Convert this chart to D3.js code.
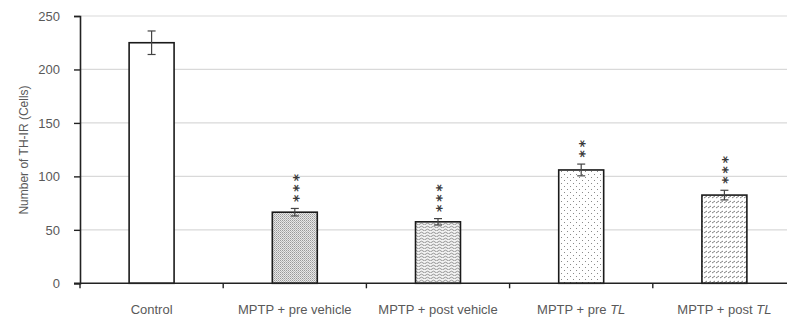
<!DOCTYPE html>
<html><head><meta charset="utf-8">
<script src="https://cdn.jsdelivr.net/npm/d3@7"></script>
<style>body{margin:0;background:#fff}svg{display:block}</style>
</head><body>
<svg id="c" width="787" height="320"></svg>
<script>
const categories = ["Control", "MPTP + pre vehicle", "MPTP + post vehicle", "MPTP + pre TL", "MPTP + post TL"];
const labelMain = ["Control", "MPTP + pre vehicle", "MPTP + post vehicle", "MPTP + pre ", "MPTP + post "];
const labelItalic = ["", "", "", "TL", "TL"];
const means = [225, 66.5, 57.5, 106, 82.5];
const errors = [11, 3.5, 3, 5.5, 4.5];
const stars = ["", "***", "***", "**", "***"];
const yTicks = [0, 50, 100, 150, 200, 250];
const fills = ["white", "url(#pDense)", "url(#pWave)", "url(#pDots)", "url(#pDiag)"];

const svg = d3.select("#c");
const x = d3.scaleBand().domain(categories).range([80, 796]).padding(0);
const y = d3.scaleLinear().domain([0, 250]).range([283.3, 16]);
const barFrac = 0.314;
const txt = "#595959";
const font = "'Liberation Sans', Arial, sans-serif";

// patterns
const defs = svg.append("defs");
let p = defs.append("pattern").attr("id","pDense").attr("patternUnits","userSpaceOnUse").attr("width",2).attr("height",2);
p.append("rect").attr("width",2).attr("height",2).attr("fill","#e8e8e8");
p.append("rect").attr("width",1).attr("height",1).attr("fill","#9a9a9a");
p.append("rect").attr("x",1).attr("y",1).attr("width",1).attr("height",1).attr("fill","#b8b8b8");

p = defs.append("pattern").attr("id","pWave").attr("patternUnits","userSpaceOnUse").attr("width",6).attr("height",3);
p.append("rect").attr("width",6).attr("height",3).attr("fill","#f2f2f2");
p.append("path").attr("d","M0,2 Q1.5,0.3 3,2 T6,2").attr("fill","none").attr("stroke","#7a7a7a").attr("stroke-width",0.8);

p = defs.append("pattern").attr("id","pDots").attr("patternUnits","userSpaceOnUse").attr("width",6).attr("height",6);
p.append("rect").attr("width",6).attr("height",6).attr("fill","white");
p.append("rect").attr("x",0).attr("y",0).attr("width",1).attr("height",1).attr("fill","#8a8a8a");
p.append("rect").attr("x",3).attr("y",3).attr("width",1).attr("height",1).attr("fill","#8a8a8a");

p = defs.append("pattern").attr("id","pDiag").attr("patternUnits","userSpaceOnUse").attr("width",4).attr("height",5);
p.append("rect").attr("width",4).attr("height",5).attr("fill","white");
p.append("path").attr("d","M0,3 L3,1").attr("stroke","#6e6e6e").attr("stroke-width",0.9);

// gridlines
svg.append("g").selectAll("line").data(yTicks.filter(d=>d>0)).join("line")
  .attr("x1",80).attr("x2",787).attr("y1",d=>y(d)).attr("y2",d=>y(d))
  .attr("stroke","#d9d9d9").attr("stroke-width",1.2);

// y axis
const yAxis = svg.append("g").attr("transform","translate(80,0)")
  .call(d3.axisLeft(y).tickValues(yTicks).tickSize(6).tickPadding(14));
yAxis.select(".domain").attr("stroke","#222").attr("stroke-width",1.6);
yAxis.selectAll(".tick line").attr("stroke","#222").attr("stroke-width",1.4);
yAxis.selectAll("text").attr("fill",txt).style("font-family",font).style("font-size","13px");

// y title
svg.append("text").attr("transform","translate(28,150) rotate(-90)").attr("text-anchor","middle")
  .attr("fill",txt).style("font-family",font).style("font-size","12px")
  .text("Number of TH-IR (Cells)");

// bars
const g = svg.append("g");
categories.forEach((c,i)=>{
  const bw = x.bandwidth()*barFrac;
  const cx = x(c) + x.bandwidth()/2;
  g.append("rect").attr("x",cx-bw/2).attr("y",y(means[i])).attr("width",bw).attr("height",y(0)-y(means[i]))
    .attr("fill",fills[i]).attr("stroke","#1a1a1a").attr("stroke-width",1.6);
  const top = y(means[i]+errors[i]), bot = y(means[i]-errors[i]);
  g.append("line").attr("x1",cx).attr("x2",cx).attr("y1",top).attr("y2",bot).attr("stroke","#444").attr("stroke-width",1.2);
  g.append("line").attr("x1",cx-4).attr("x2",cx+4).attr("y1",top).attr("y2",top).attr("stroke","#444").attr("stroke-width",1.2);
  g.append("line").attr("x1",cx-4).attr("x2",cx+4).attr("y1",bot).attr("y2",bot).attr("stroke","#444").attr("stroke-width",1.2);
  if(stars[i]){
    // stacked significance stars, one text element rotated so they stack vertically
    g.append("text").attr("transform",`translate(${cx+7.7},${top-10+3.5}) rotate(-90)`)
      .attr("fill","#3a3a3a").style("letter-spacing","3px")
      .style("font-family","'DejaVu Sans', sans-serif").style("font-weight","bold").style("font-size","14px")
      .text(stars[i]);
  }
});

// x axis
const xAxis = svg.append("g").attr("transform",`translate(0,${y(0)})`);
xAxis.append("line").attr("x1",74).attr("x2",787).attr("y1",0).attr("y2",0).attr("stroke","#222").attr("stroke-width",1.6);
xAxis.selectAll("line.t").data(categories).join("line").attr("class","t")
  .attr("x1",d=>x(d)).attr("x2",d=>x(d)).attr("y1",0).attr("y2",5).attr("stroke","#222").attr("stroke-width",1.4);
const lab = xAxis.selectAll("text").data(categories).join("text")
  .attr("x",d=>x(d)+x.bandwidth()/2).attr("y",31).attr("text-anchor","middle")
  .attr("fill",txt).style("font-family",font).style("font-size","13px");
lab.each(function(d,i){
  const t = d3.select(this);
  t.append("tspan").text(labelMain[i]);
  if(labelItalic[i]) t.append("tspan").style("font-style","italic").text(labelItalic[i]);
});
</script>
</body></html>
